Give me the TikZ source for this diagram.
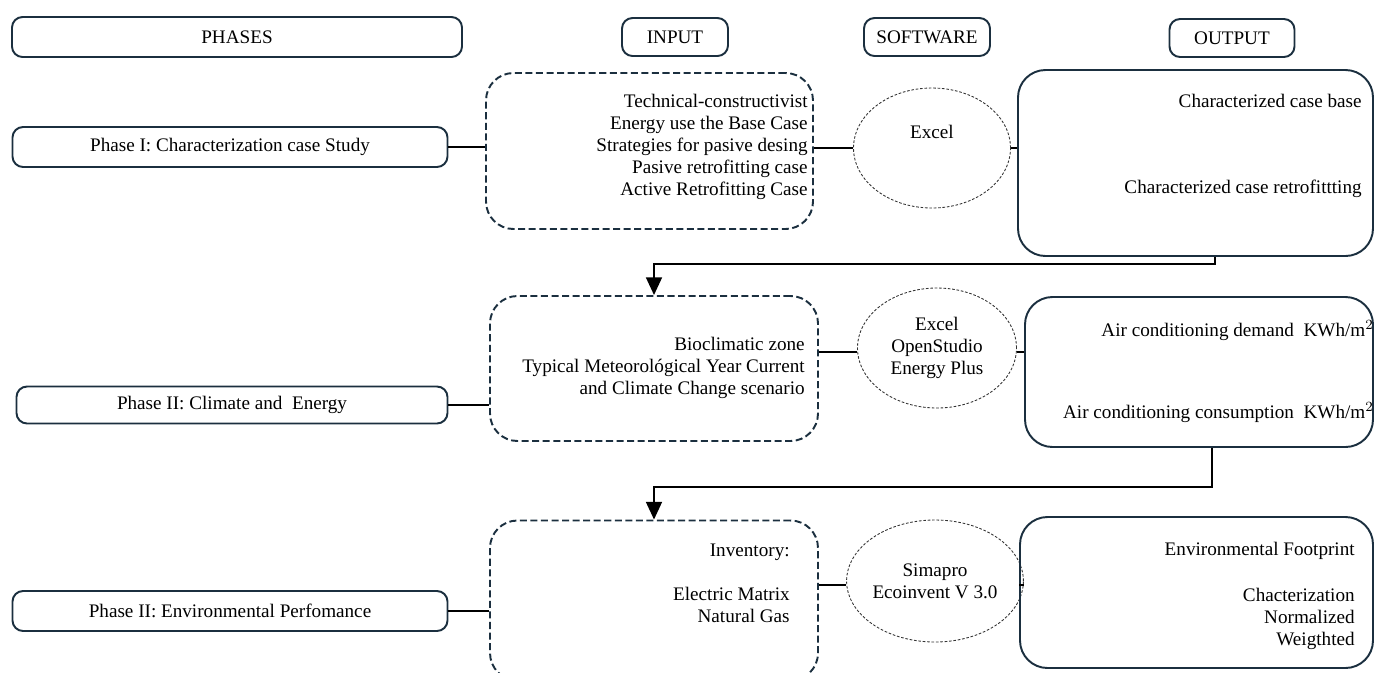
\documentclass[tikz,border=0pt]{standalone}
\usepackage{fontspec}
\setmainfont{Liberation Serif}
\usetikzlibrary{shapes,arrows.meta,positioning,calc}
\definecolor{navy}{HTML}{1B2F3F}
\newcommand{\boxfont}{\fontsize{10.9}{12.5}\selectfont}

\begin{document}
\begin{tikzpicture}[
    box/.style={draw=navy, line width=1.1pt, rectangle, rounded corners=6pt, minimum height=0.8cm, font=\boxfont},
    inbox/.style={draw=navy, line width=1.1pt, dash pattern=on 4pt off 2pt, rounded corners=0.55cm},
    outbox/.style={draw=navy, line width=1.1pt, rounded corners=0.55cm},
    soft/.style={draw=black!80, ellipse, dash pattern=on 1.5pt off 1pt, line width=0.5pt, inner sep=0pt, align=center, font=\boxfont},
    txt/.style={align=right, font=\boxfont, anchor=east, inner sep=0pt},
    link/.style={line width=1.1pt},
    arrow/.style={-{Triangle[width=9pt,length=10pt]}, line width=1.1pt}
]
\useasboundingbox (0,0) rectangle (27.5,-13.44);

% Headers
\node[box, minimum width=9cm] (phases) at (4.74,-0.74) {PHASES};
\node[box, minimum width=2.12cm, minimum height=0.76cm] (input) at (13.5,-0.74) {INPUT};
\node[box, minimum width=2.52cm, minimum height=0.76cm] (software) at (18.54,-0.74) {SOFTWARE};
\node[box, minimum width=2.5cm, minimum height=0.76cm] (output) at (24.64,-0.76) {OUTPUT};

% Phase I
\node[box, minimum width=8.7cm] (ph1) at (4.6,-2.94) {Phase I: Characterization case Study};
\node[inbox, minimum width=6.54cm, minimum height=3.12cm] (in1) at (12.99,-3.02) {};
\node[txt] (in1t) at (16.16,-2.94) {
    Technical-constructivist\\
    Energy use the Base Case\\
    Strategies for pasive desing\\
    Pasive retrofitting case\\
    Active Retrofitting Case
};
\node[soft, minimum width=3.14cm, minimum height=2.4cm] (sw1) at (18.64,-2.96) {Excel\\[6pt]};
\node[outbox, minimum width=7.1cm, minimum height=3.72cm] (out1) at (23.91,-3.26) {};
\node[txt] (out1t) at (27.24,-2.92) {
    Characterized case base\\[36pt]
    Characterized case retrofittting
};

% Phase II: climate
\node[box, minimum width=8.62cm, minimum height=0.74cm] (ph2) at (4.64,-8.1) {Phase II: Climate and\ \ Energy};
\node[inbox, minimum width=6.56cm, minimum height=2.9cm] (in2) at (13.08,-7.37) {};
\node[txt] (in2t) at (16.1,-7.36) {
    Bioclimatic zone\\
    Typical Meteorológical Year Current\\
    and Climate Change scenario
};
\node[soft, minimum width=3.18cm, minimum height=2.4cm] (sw2) at (18.74,-6.96) {Excel\\OpenStudio\\Energy Plus};
\node[outbox, minimum width=6.96cm, minimum height=3cm] (out2) at (23.98,-7.44) {};
\node[txt] (out2t) at (27.48,-7.43) {
    Air conditioning demand\ \ KWh/m$^2$\\[34.5pt]
    Air conditioning consumption\ \ KWh/m$^2$
};

% Phase II: environment
\node[box, minimum width=8.7cm] (ph3) at (4.6,-12.22) {Phase II: Environmental Perfomance};
\node[inbox, minimum width=6.56cm, minimum height=3.2cm] (in3) at (13.08,-12.01) {};
\node[txt] (in3t) at (15.8,-11.67) {
    Inventory:\\
    \\
    Electric Matrix\\
    Natural Gas
};
\node[soft, minimum width=3.08cm, minimum height=2.44cm] (sw3) at (18.7,-11.62) {Simapro\\Ecoinvent V 3.0};
\node[outbox, minimum width=7.06cm, minimum height=3.02cm] (out3) at (23.93,-11.85) {};
\node[txt] (out3t) at (27.1,-11.92) {
    Environmental Footprint\\[13.6pt]
    Chacterization\\
    Normalized\\
    Weigthted
};

% Links
\draw[link] (ph1.east) -- (ph1.east -| in1.west);
\draw[link] (sw1.west -| in1.east) -- (sw1.west);
\draw[link] (sw1.east) -- (sw1.east -| out1.west);
\draw[link] (ph2.east) -- (ph2.east -| in2.west);
\draw[link] ([yshift=-0.08cm]sw2.west -| in2.east) -- ([yshift=-0.08cm]sw2.west);
\draw[link] ([yshift=-0.08cm]sw2.east) -- ([yshift=-0.08cm]sw2.east -| out2.west);
\draw[link] (ph3.east) -- (ph3.east -| in3.west);
\draw[link] ([yshift=-0.08cm]sw3.west -| in3.east) -- ([yshift=-0.08cm]sw3.west);
\draw[link] ([yshift=-0.08cm]sw3.east) -- ([yshift=-0.08cm]sw3.east -| out3.west);

% Arrows
\coordinate (t1) at (24.3,-5.28);
\coordinate (t2) at (24.24,-9.74);
\draw[arrow] (out1.south -| t1) -- (t1) -| (in2.north);
\draw[arrow] (out2.south -| t2) -- (t2) -| (in3.north);

\end{tikzpicture}
\end{document}
